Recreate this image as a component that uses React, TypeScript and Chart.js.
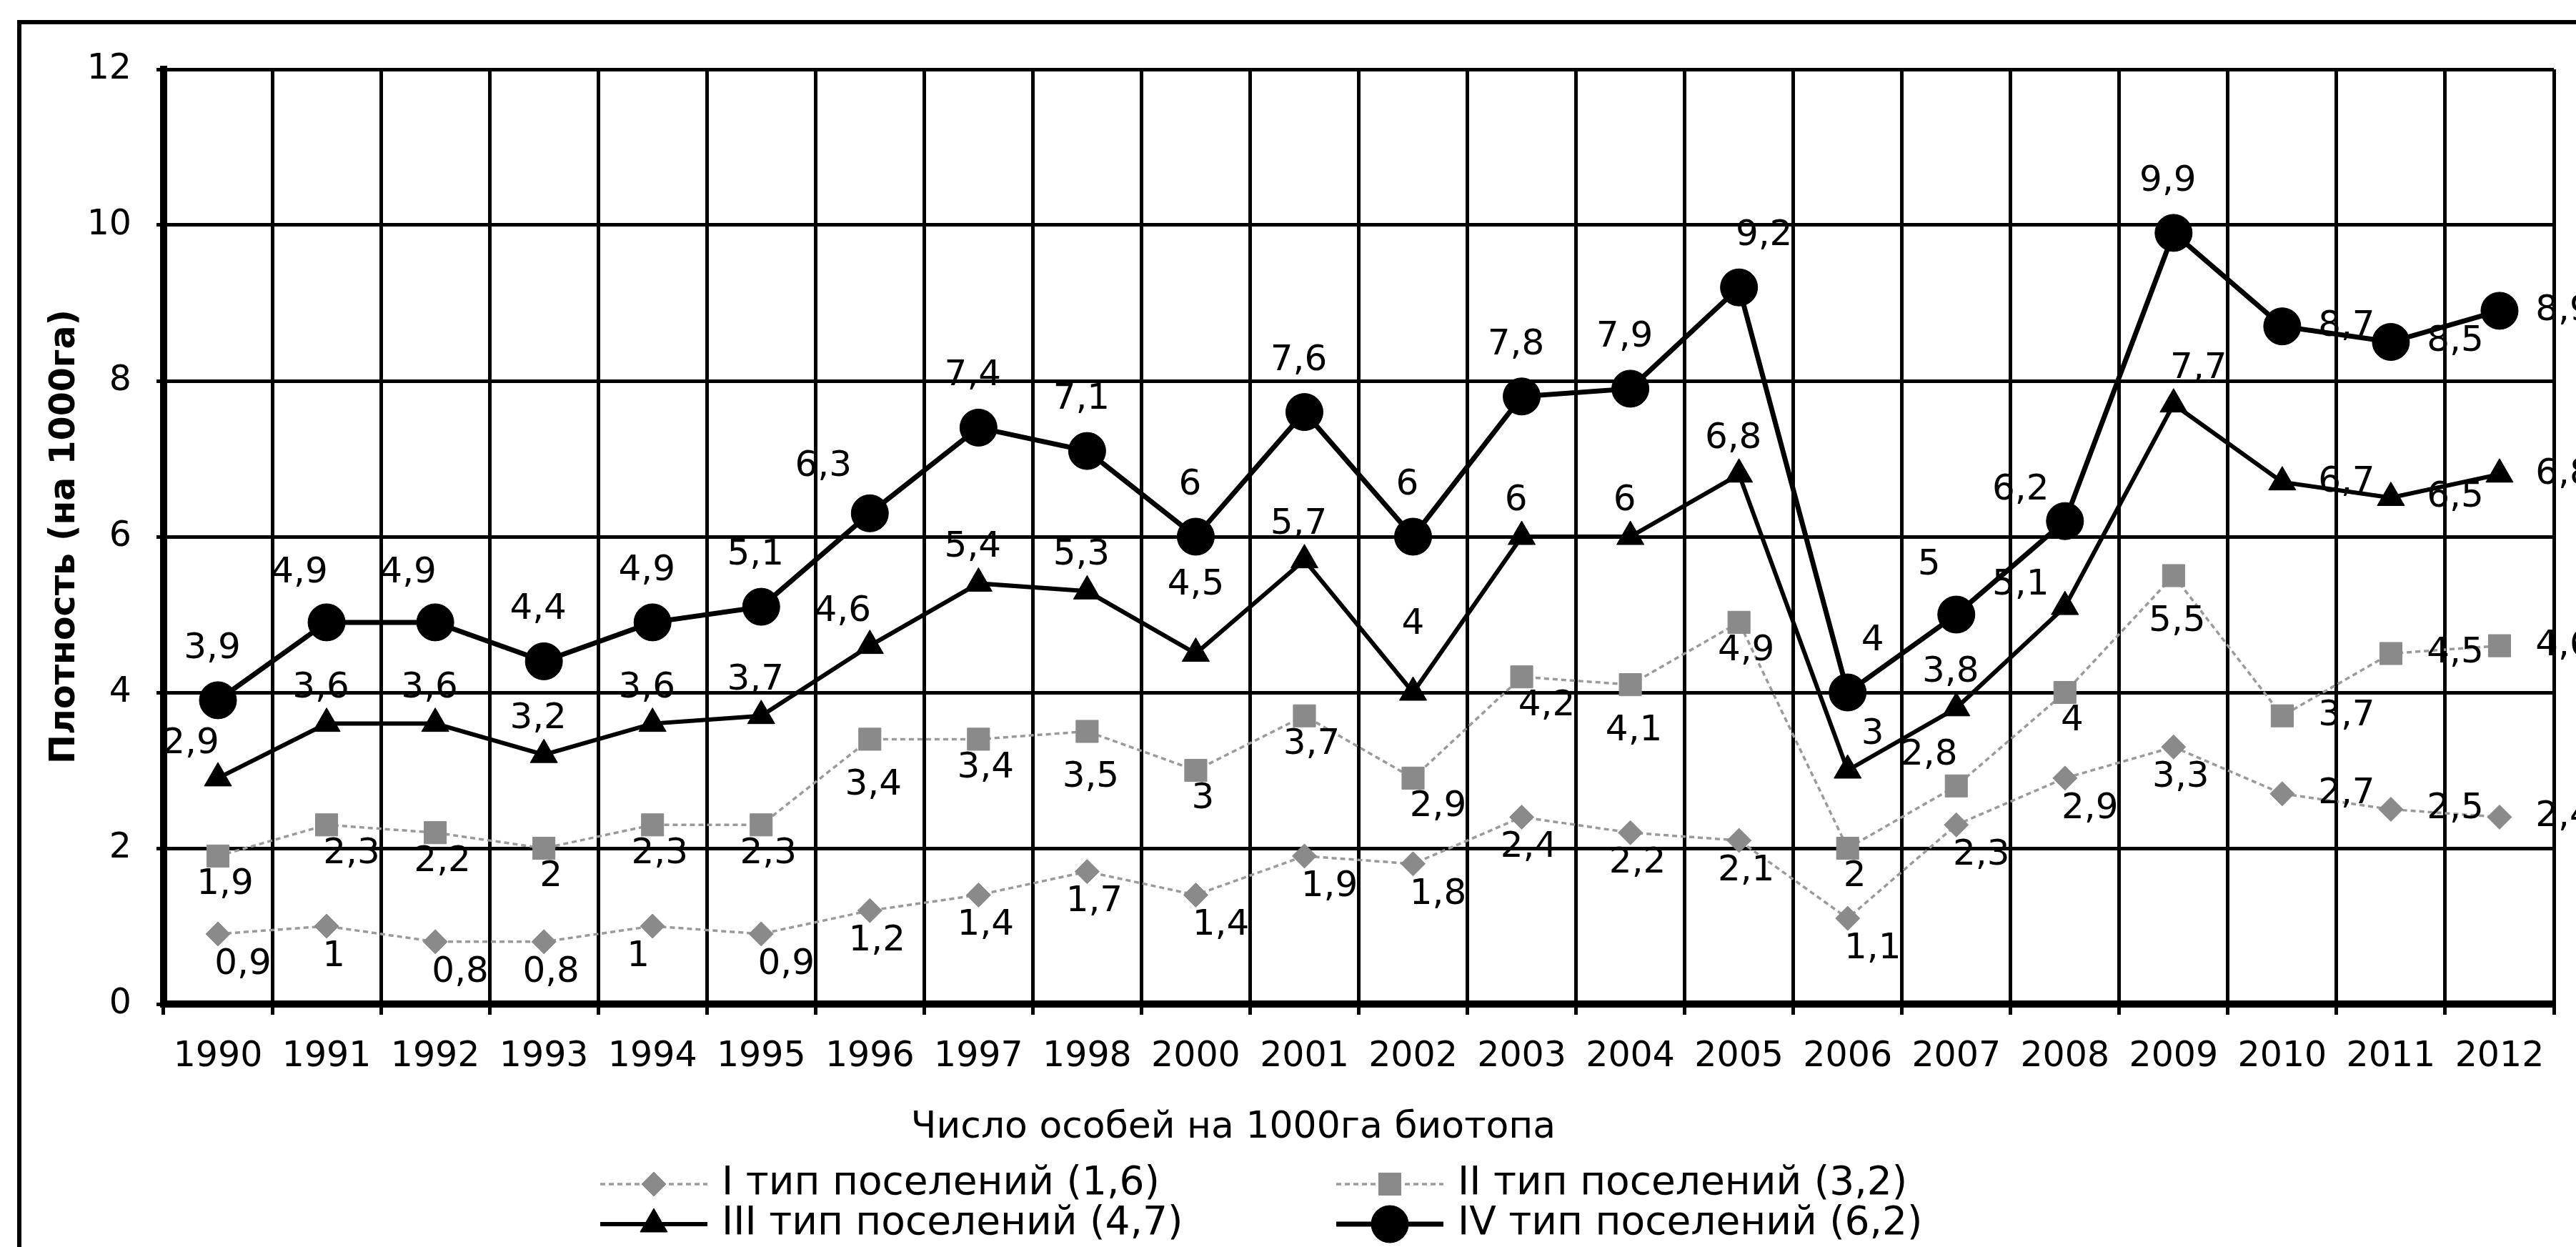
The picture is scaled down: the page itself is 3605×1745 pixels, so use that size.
import React, { useEffect, useRef } from 'react';
import { Chart, registerables } from 'chart.js';

Chart.register(...registerables);

// ---- data ----
const YEARS = ['1990', '1991', '1992', '1993', '1994', '1995', '1996', '1997', '1998', '2000', '2001', '2002', '2003', '2004', '2005', '2006', '2007', '2008', '2009', '2010', '2011', '2012'];
const SERIES_I = [0.9, 1, 0.8, 0.8, 1, 0.9, 1.2, 1.4, 1.7, 1.4, 1.9, 1.8, 2.4, 2.2, 2.1, 1.1, 2.3, 2.9, 3.3, 2.7, 2.5, 2.4];
const SERIES_II = [1.9, 2.3, 2.2, 2, 2.3, 2.3, 3.4, 3.4, 3.5, 3, 3.7, 2.9, 4.2, 4.1, 4.9, 2, 2.8, 4, 5.5, 3.7, 4.5, 4.6];
const SERIES_III = [2.9, 3.6, 3.6, 3.2, 3.6, 3.7, 4.6, 5.4, 5.3, 4.5, 5.7, 4, 6, 6, 6.8, 3, 3.8, 5.1, 7.7, 6.7, 6.5, 6.8];
const SERIES_IV = [3.9, 4.9, 4.9, 4.4, 4.9, 5.1, 6.3, 7.4, 7.1, 6, 7.6, 6, 7.8, 7.9, 9.2, 4, 5, 6.2, 9.9, 8.7, 8.5, 8.9];
const NAME_I = 'I тип поселений (1,6)';
const NAME_II = 'II тип поселений (3,2)';
const NAME_III = 'III тип поселений (4,7)';
const NAME_IV = 'IV тип поселений (6,2)';
const Y_TITLE = 'Плотность (на 1000га)';
const X_TITLE = 'Число особей на 1000га биотопа';
const Y_MIN = 0;
const Y_MAX = 12;
const Y_STEP = 2;

// data-label placement codes (compass direction from the point)
const LABEL_POS_IV = ['n', 'nw', 'nw', 'n', 'n', 'n', 'NW', 'n', 'n', 'n', 'n', 'n', 'n', 'n', 'ne', 'ne', 'nw', 'w', 'n', 'e', 'e', 'e'];
const LABEL_POS_III = ['nw', 'n', 'n', 'n', 'n', 'n', 'nw', 'n', 'n', 'N', 'n', 'N', 'n', 'n', 'n', 'ne', 'n', 'w', 'ne', 'e', 'e', 'e'];
const LABEL_POS_II = ['s', 'se', 's', 's', 's', 's', 'S', 's', 'S', 's', 's', 'se', 'se', 'S', 's', 's', 'nw', 's', 'S', 'e', 'e', 'e'];
const LABEL_POS_I = ['se', 's', 'se', 's', 'sw', 'se', 's', 's', 's', 'se', 'se', 'se', 's', 's', 's', 'se', 'se', 'se', 's', 'e', 'e', 'e'];

const FONT = "'DejaVu Sans', 'Liberation Sans', sans-serif";
const W = 3605;
const H = 1745;

function labelOffset(code: string, k: number): [number, number] {
  switch (code) {
    case 'n': return [-8, -50 * k];
    case 'nw': return [-38, -48 * k];
    case 'NW': return [-65, -45 * k];
    case 'ne': return [35, -50 * k];
    case 'N': return [0, -95];
    case 'w': return [-62, -30 * k];
    case 's': return [10, 45 * k];
    case 'S': return [5, 65];
    case 'se': return [35, 45 * k];
    case 'sw': return [-20, 45 * k];
    case 'e': return [90, 0];
    default: return [0, 0];
  }
}

function drawMarker(ctx: CanvasRenderingContext2D, style: string, x: number, y: number, r: number, color: string) {
  ctx.save();
  ctx.fillStyle = color;
  ctx.strokeStyle = color;
  ctx.setLineDash([]);
  ctx.lineWidth = 1;
  ctx.beginPath();
  if (style === 'circle') {
    ctx.arc(x, y, r, 0, Math.PI * 2);
  } else if (style === 'triangle') {
    let rad = 0;
    ctx.moveTo(x + Math.sin(rad) * r, y - Math.cos(rad) * r);
    rad += (2 * Math.PI) / 3;
    ctx.lineTo(x + Math.sin(rad) * r, y - Math.cos(rad) * r);
    rad += (2 * Math.PI) / 3;
    ctx.lineTo(x + Math.sin(rad) * r, y - Math.cos(rad) * r);
    ctx.closePath();
  } else if (style === 'rect') {
    const s = r / Math.SQRT2;
    ctx.rect(x - s, y - s, 2 * s, 2 * s);
  } else if (style === 'rectRot') {
    ctx.moveTo(x - r, y);
    ctx.lineTo(x, y - r);
    ctx.lineTo(x + r, y);
    ctx.lineTo(x, y + r);
    ctx.closePath();
  }
  ctx.fill();
  ctx.stroke();
  ctx.restore();
}

export default function App() {
  const canvasRef = useRef<HTMLCanvasElement | null>(null);

  useEffect(() => {
    const canvas = canvasRef.current;
    if (!canvas) return;

    const labelPos = [LABEL_POS_IV, LABEL_POS_III, LABEL_POS_II, LABEL_POS_I];
    const labelK = [1.44, 1.0, 0.9, 0.95];

    const customPlugin = {
      id: 'custom',
      beforeDraw(chart: any) {
        const ctx = chart.ctx;
        ctx.save();
        ctx.fillStyle = '#ffffff';
        ctx.fillRect(0, 0, chart.width, chart.height);
        ctx.restore();
      },
      afterDatasetsDraw(chart: any) {
        const ctx: CanvasRenderingContext2D = chart.ctx;
        ctx.save();
        ctx.font = `50px ${FONT}`;
        ctx.fillStyle = '#000';
        ctx.textAlign = 'center';
        ctx.textBaseline = 'middle';
        chart.data.datasets.forEach((ds: any, di: number) => {
          const meta = chart.getDatasetMeta(di);
          meta.data.forEach((el: any, i: number) => {
            const v = ds.data[i];
            const [dx, dy] = labelOffset(labelPos[di][i], labelK[di]);
            ctx.fillText(String(v).replace('.', ','), el.x + dx, el.y + dy);
          });
        });
        ctx.restore();
      },
      afterDraw(chart: any) {
        const ctx: CanvasRenderingContext2D = chart.ctx;
        ctx.save();
        // outer frame (left and top edges visible)
        ctx.strokeStyle = '#000';
        ctx.lineWidth = 6;
        ctx.beginPath();
        ctx.moveTo(27, H + 10);
        ctx.lineTo(27, 31);
        ctx.lineTo(W + 10, 31);
        ctx.stroke();

        // x axis title
        ctx.fillStyle = '#000';
        ctx.font = `52px ${FONT}`;
        ctx.textAlign = 'center';
        ctx.textBaseline = 'middle';
        ctx.fillText(X_TITLE, 1726, 1578);

        // legend
        const items = [
          { di: 3, x0: 840, y: 1657 },
          { di: 2, x0: 1870, y: 1657 },
          { di: 1, x0: 840, y: 1713 },
          { di: 0, x0: 1870, y: 1713 },
        ];
        ctx.font = `55px ${FONT}`;
        ctx.textAlign = 'left';
        items.forEach((it) => {
          const ds: any = chart.data.datasets[it.di];
          ctx.save();
          ctx.strokeStyle = ds.borderColor;
          ctx.lineWidth = ds.borderWidth;
          ctx.setLineDash(ds.borderDash || []);
          ctx.beginPath();
          ctx.moveTo(it.x0, it.y);
          ctx.lineTo(it.x0 + 150, it.y);
          ctx.stroke();
          ctx.restore();
          drawMarker(ctx, ds.pointStyle, it.x0 + 75, it.y, ds.pointRadius, ds.pointBackgroundColor);
          ctx.fillStyle = '#000';
          ctx.fillText(ds.label, it.x0 + 170, it.y);
        });
        ctx.restore();
      },
    };

    const tickFont = { family: FONT, size: 49 };

    const chart = new Chart(canvas, {
      type: 'line',
      data: {
        labels: YEARS,
        datasets: [
          {
            label: NAME_IV,
            data: SERIES_IV,
            borderColor: '#000',
            backgroundColor: '#000',
            borderWidth: 7,
            pointStyle: 'circle',
            pointRadius: 26,
            pointBackgroundColor: '#000',
            pointBorderColor: '#000',
            pointBorderWidth: 1,
            tension: 0,
          },
          {
            label: NAME_III,
            data: SERIES_III,
            borderColor: '#000',
            backgroundColor: '#000',
            borderWidth: 6,
            pointStyle: 'triangle',
            pointRadius: 22,
            pointBackgroundColor: '#000',
            pointBorderColor: '#000',
            pointBorderWidth: 1,
            tension: 0,
          },
          {
            label: NAME_II,
            data: SERIES_II,
            borderColor: '#9a9a9a',
            backgroundColor: '#8a8a8a',
            borderWidth: 3.5,
            borderDash: [7, 5],
            pointStyle: 'rect',
            pointRadius: 22,
            pointBackgroundColor: '#8a8a8a',
            pointBorderColor: '#8a8a8a',
            pointBorderWidth: 1,
            tension: 0,
          },
          {
            label: NAME_I,
            data: SERIES_I,
            borderColor: '#9a9a9a',
            backgroundColor: '#8a8a8a',
            borderWidth: 3.5,
            borderDash: [7, 5],
            pointStyle: 'rectRot',
            pointRadius: 17,
            pointBackgroundColor: '#8a8a8a',
            pointBorderColor: '#8a8a8a',
            pointBorderWidth: 1,
            tension: 0,
          },
        ],
      },
      options: {
        responsive: false,
        animation: false,
        devicePixelRatio: 1,
        layout: { padding: { left: 0, top: 97, right: 31, bottom: 130 } },
        plugins: {
          legend: { display: false },
          tooltip: { enabled: false },
          title: { display: false },
        },
        scales: {
          x: {
            type: 'category',
            offset: true,
            grid: {
              offset: true,
              color: '#000',
              lineWidth: 5,
              drawTicks: true,
              tickLength: 15,
              tickWidth: 5,
              tickColor: '#000',
            },
            border: { display: true, color: '#000', width: 10 },
            ticks: {
              font: tickFont,
              color: '#000',
              padding: 30,
              maxRotation: 0,
              minRotation: 0,
              autoSkip: false,
            },
            afterFit(scale: any) {
              scale.height = 210;
            },
          },
          y: {
            min: Y_MIN,
            max: Y_MAX,
            grid: {
              color: '#000',
              lineWidth: 5,
              drawTicks: true,
              tickLength: 10,
              tickWidth: 5,
              tickColor: '#000',
            },
            border: { display: true, color: '#000', width: 10 },
            ticks: {
              stepSize: Y_STEP,
              font: tickFont,
              color: '#000',
              padding: 35,
            },
            title: {
              display: true,
              text: Y_TITLE,
              color: '#000',
              font: { family: FONT, size: 49, weight: 'bold' },
              padding: { top: 62, bottom: 0 },
            },
            afterFit(scale: any) {
              scale.width = 229;
            },
          },
        },
      } as any,
      plugins: [customPlugin],
    });

    return () => {
      chart.destroy();
    };
  }, []);

  return (
    <div style={{ position: 'absolute', left: 0, top: 0, width: W, height: H, background: '#fff' }}>
      <canvas ref={canvasRef} width={W} height={H} style={{ display: 'block', width: W, height: H }} />
    </div>
  );
}
